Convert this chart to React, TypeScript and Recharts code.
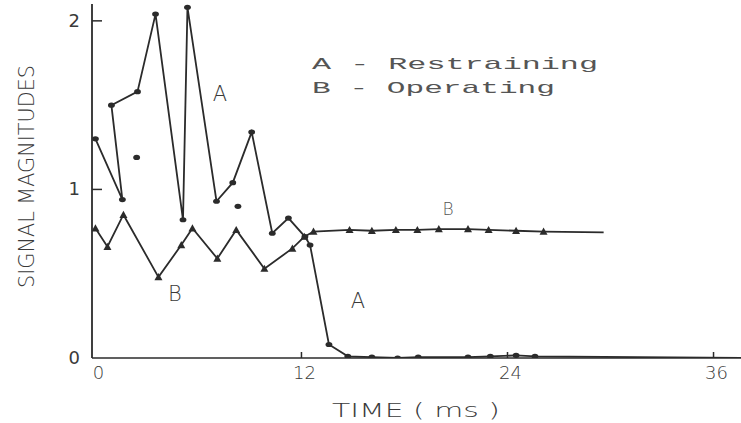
import React from "react";
import { ComposedChart, Line, XAxis, YAxis } from "recharts";

// Curve A – Restraining (time in ms, magnitude)
const aTime = [0, 1.57, 0.93, 2.45, 3.5, 5.1, 5.36, 7.05, 8.0, 9.1, 10.3, 11.24, 12.2, 12.5, 13.6, 14.7, 16.1, 17.6, 18.8, 21.7, 23.0, 24.5, 25.6, 37.6];
const aValue = [1.3, 0.94, 1.5, 1.58, 2.04, 0.82, 2.08, 0.93, 1.04, 1.34, 0.74, 0.83, 0.72, 0.67, 0.08, 0.01, 0.005, 0.0, 0.005, 0.005, 0.01, 0.015, 0.01, 0.0];

// Curve B – Operating
const bTime = [0, 0.7, 1.63, 3.67, 5.0, 5.65, 7.1, 8.2, 9.84, 11.47, 12.17, 12.7, 14.8, 16.1, 17.5, 18.75, 20.0, 21.7, 22.9, 24.5, 26.1, 29.6];
const bValue = [0.77, 0.66, 0.85, 0.48, 0.67, 0.77, 0.59, 0.76, 0.53, 0.65, 0.72, 0.75, 0.76, 0.755, 0.76, 0.76, 0.765, 0.765, 0.76, 0.755, 0.75, 0.745];

// Isolated sample points
const isoTime = [2.4, 8.3];
const isoValue = [1.19, 0.9];

const xTicks = [0, 12, 24, 36];
const yTicks = [0, 1, 2];

const legendA = "A - Restraining";
const legendB = "B - Operating";
const xTitle = "TIME ( ms )";
const yTitle = "SIGNAL MAGNITUDES";

const dataA = aTime.map((t, i) => ({ t, v: aValue[i] }));
const dataB = bTime.map((t, i) => ({ t, v: bValue[i] }));
const dataIso = isoTime.map((t, i) => ({ t, v: isoValue[i] }));

const INK = "#2b2b2b";
const TEXT = "#3a3a3a";

const XTick = (props: any) => {
  const { x, y, payload } = props;
  return (
    <g>
      {payload.value !== 0 && <line x1={x} x2={x} y1={y} y2={y - 6} stroke={INK} strokeWidth={1.5} />}
      <text x={x + 3} y={y + 21} textAnchor="middle" fontSize={18} fontFamily="DejaVu Sans" fontWeight={300} fill={TEXT}>
        {payload.value}
      </text>
    </g>
  );
};

const YTick = (props: any) => {
  const { x, y, payload } = props;
  return (
    <g>
      {payload.value !== 0 && <line x1={x} x2={x + 10} y1={y} y2={y} stroke={INK} strokeWidth={1.5} />}
      <text x={x - 12} y={y + 6} textAnchor="end" fontSize={18} fontFamily="DejaVu Sans" fill={TEXT}>
        {payload.value}
      </text>
    </g>
  );
};

const circleDot = (last: number) => (props: any) => {
  const { cx, cy, index } = props;
  if (index === last || cx == null) return <g key={`c${index}`} />;
  return <ellipse key={`c${index}`} cx={cx} cy={cy} rx={3.4} ry={2.6} fill={INK} />;
};

const triDot = (last: number) => (props: any) => {
  const { cx, cy, index } = props;
  if (index === last || cx == null) return <g key={`t${index}`} />;
  const s = 4;
  return (
    <path
      key={`t${index}`}
      d={`M${cx},${cy - s} L${cx + s},${cy + s * 0.8} L${cx - s},${cy + s * 0.8} Z`}
      fill={INK}
    />
  );
};

export default function App() {
  return (
    <div style={{ position: "absolute", left: 0, top: 0, width: 741, height: 423, background: "#fff" }}>
      <ComposedChart
        width={741}
        height={423}
        margin={{ top: 4, right: 0, bottom: 0, left: 32 }}
      >
        <XAxis
          type="number"
          dataKey="t"
          domain={[-0.2, 37.6]}
          ticks={xTicks}
          allowDataOverflow
          height={65}
          tickSize={0}
          tickMargin={0}
          tickLine={false}
          axisLine={{ stroke: INK, strokeWidth: 1.6 }}
          tick={XTick}
          interval={0}
        />
        <YAxis
          type="number"
          dataKey="v"
          domain={[0, 2.1]}
          ticks={yTicks}
          allowDataOverflow
          width={60}
          tickSize={0}
          tickMargin={0}
          tickLine={false}
          axisLine={{ stroke: INK, strokeWidth: 1.8 }}
          tick={YTick}
          interval={0}
        />
        <Line
          data={dataA}
          dataKey="v"
          type="linear"
          stroke={INK}
          strokeWidth={1.8}
          dot={circleDot(dataA.length - 1)}
          activeDot={false}
          isAnimationActive={false}
        />
        <Line
          data={dataB}
          dataKey="v"
          type="linear"
          stroke={INK}
          strokeWidth={1.8}
          dot={triDot(dataB.length - 1)}
          activeDot={false}
          isAnimationActive={false}
        />
        <Line
          data={dataIso}
          dataKey="v"
          type="linear"
          stroke="none"
          dot={circleDot(-1)}
          activeDot={false}
          isAnimationActive={false}
        />
      </ComposedChart>
      <svg
        width={741}
        height={423}
        style={{ position: "absolute", left: 0, top: 0, pointerEvents: "none" }}
      >
        <text x={312} y={69} fontFamily="Liberation Mono" fontSize={17} fill="#555" textLength={286} lengthAdjust="spacingAndGlyphs">
          {legendA}
        </text>
        <text x={312} y={93} fontFamily="Liberation Mono" fontSize={17} fill="#555" textLength={243} lengthAdjust="spacingAndGlyphs">
          {legendB}
        </text>
        <text x={220} y={101} textAnchor="middle" fontFamily="DejaVu Sans" fontWeight={300} fontSize={21} fill={TEXT}>A</text>
        <text x={358} y={308} textAnchor="middle" fontFamily="DejaVu Sans" fontWeight={300} fontSize={21} fill={TEXT}>A</text>
        <text x={175} y={301} textAnchor="middle" fontFamily="DejaVu Sans" fontWeight={300} fontSize={21} fill={TEXT}>B</text>
        <text x={448} y={215} textAnchor="middle" fontFamily="DejaVu Sans" fontWeight={300} fontSize={17} fill="#555">B</text>
        <text x={332} y={417} fontFamily="DejaVu Sans" fontWeight={300} fontSize={19} fill={TEXT} textLength={168} lengthAdjust="spacingAndGlyphs">
          {xTitle}
        </text>
        <text
          x={0}
          y={0}
          transform="translate(34,288) rotate(-90)"
          fontFamily="DejaVu Sans"
          fontWeight={300}
          fontSize={22}
          fill={TEXT}
          textLength={223}
          lengthAdjust="spacingAndGlyphs"
        >
          {yTitle}
        </text>
      </svg>
    </div>
  );
}
